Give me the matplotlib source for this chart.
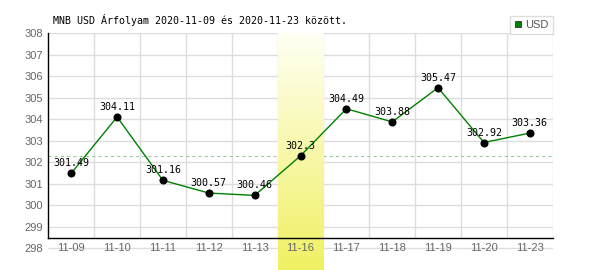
import numpy as np
import matplotlib
matplotlib.use("Agg")
import matplotlib.pyplot as plt
from matplotlib.lines import Line2D
from matplotlib.colors import LinearSegmentedColormap

# ---- data ----
title = "MNB USD Árfolyam 2020-11-09 és 2020-11-23 között."
categories = ["11-09", "11-10", "11-11", "11-12", "11-13", "11-16",
              "11-17", "11-18", "11-19", "11-20", "11-23"]
values = [301.49, 304.11, 301.16, 300.57, 300.46, 302.3,
          304.49, 303.88, 305.47, 302.92, 303.36]
highlight_index = 5
series_name = "USD"
y_ticks = list(range(298, 309))

W, H = 600, 270
fig = plt.figure(figsize=(W / 100, H / 100), dpi=100)
fig.patch.set_facecolor("white")

# pixel geometry
left_px, right_px = 48.3, 552.7
top_px = 33.3
px_per_unit = 21.5
y_top = 308
y_at_bottom = 298 - (H - 248.3) / px_per_unit
axis_line_val = 298 + (248.3 - 238.3) / px_per_unit

ax = fig.add_axes([left_px / W, 0, (right_px - left_px) / W, (H - top_px) / H])
ax.set_facecolor("none")
x = np.arange(len(categories))
xmin, xmax = -0.5, len(categories) - 0.5

# gridlines
grid_c = "#dddddd"
ax.hlines(y_ticks, xmin, xmax, colors=grid_c, lw=1, zorder=0)
ax.vlines(x + 0.5, axis_line_val, y_top, colors=grid_c, lw=1, zorder=0)

# dashed reference line at highlighted value
ax.hlines(values[highlight_index], xmin, xmax, colors="#99c899", lw=0.75,
          linestyles=(0, (3, 3)), zorder=1)

# highlighted band with gradient
cmap = LinearSegmentedColormap.from_list("band", ["#f0f062", "#fffff4"])
grad = np.linspace(0, 1, 256).reshape(-1, 1)
ax.imshow(grad, cmap=cmap, origin="lower", aspect="auto",
          extent=[highlight_index - 0.5, highlight_index + 0.5, y_at_bottom, y_top],
          zorder=2, interpolation="bilinear")

# data line
ax.plot(x, values, color="#008000", lw=1, marker="o", ms=4.8,
        mfc="black", mec="black", zorder=5)
for xi, v in zip(x, values):
    ax.annotate("%g" % v, (xi, v), xytext=(0, 5), textcoords="offset points",
                ha="center", va="baseline", fontsize=7.2,
                family="DejaVu Sans Mono", color="black", zorder=6)

# x labels on the 298 line
for xi, c in zip(x, categories):
    ax.text(xi, 298, c, ha="center", va="center", fontsize=8,
            family="Liberation Sans", color="#666666", zorder=3)

ax.set_xlim(xmin, xmax)
ax.set_ylim(y_at_bottom, y_top)
ax.set_xticks([])
ax.set_yticks(y_ticks)
ax.set_yticklabels([str(t) for t in y_ticks], family="Liberation Sans",
                   fontsize=8, color="#666666")
ax.tick_params(axis="y", length=0, pad=4)

for s in ["top", "right"]:
    ax.spines[s].set_visible(False)
ax.spines["left"].set_bounds(axis_line_val, y_top)
ax.spines["left"].set_color("black")
ax.spines["left"].set_linewidth(1)
ax.spines["bottom"].set_position(("data", axis_line_val))
ax.spines["bottom"].set_bounds(xmin, xmax)
ax.spines["bottom"].set_color("black")
ax.spines["bottom"].set_linewidth(1)
ax.spines["left"].set_zorder(4)
ax.spines["bottom"].set_zorder(4)

# title
fig.text(53 / W, 1 - 20 / H, title, family="DejaVu Sans Mono", fontsize=7.2,
         ha="left", va="center", color="black")

# legend
handle = Line2D([0], [0], marker="s", ls="", mfc="#008000", mec="#333333",
                ms=5, mew=0.6)
leg = ax.legend([handle], [series_name], loc="upper right",
                bbox_to_anchor=(right_px / W, 1 - 16 / H),
                bbox_transform=fig.transFigure, frameon=True, fancybox=False,
                edgecolor="#dddddd", framealpha=1, handlelength=0.7,
                handletextpad=0.3, borderpad=0.35, borderaxespad=0,
                prop={"family": "Liberation Sans", "size": 8},
                labelcolor="#555555")
leg.get_frame().set_linewidth(1)
leg.set_zorder(10)

fig.savefig("out.png", dpi=100, facecolor="white")
